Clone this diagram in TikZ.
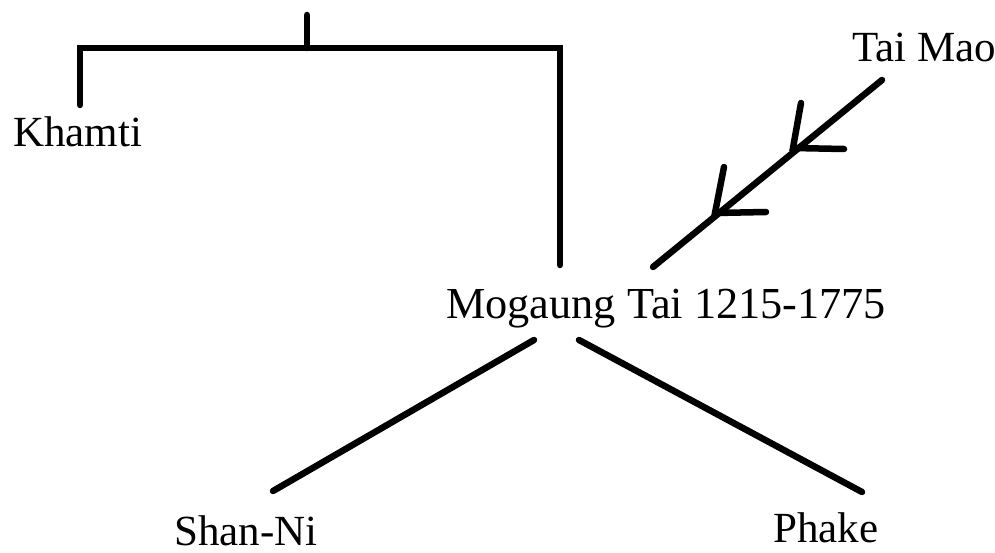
\documentclass[tikz,border=0pt]{standalone}
\usepackage{fontspec}
\setmainfont{Liberation Serif}
\begin{document}
\begin{tikzpicture}[x=1pt,y=-1pt,
  stroke/.style={line width=6.5pt,line cap=round,line join=miter},
  label/.style={inner sep=0pt,anchor=base west,font=\fontsize{43}{50}\selectfont}]
\useasboundingbox (0,0) rectangle (995,553);
\fill[white] (0,0) rectangle (995,553);

% labels
\node[label] (khamti)  at (13,147)  {Khamti};
\node[label] (taimao)  at (852,62)  {Tai Mao};
\node[label,font=\fontsize{44.3}{50}\selectfont] (mogaung) at (446,318) {Mogaung Tai 1215-1775};
\node[label] (shanni)  at (174,545) {Shan-Ni};
\node[label] (phake)   at (773,542) {Phake};

% line end points
\coordinate (root)   at (307,15);
\coordinate (joint)  at (307,48);
\coordinate (lcorner) at (80,48);
\coordinate (rcorner) at (560,48);
\coordinate (khamtiTop) at (80,105);
\coordinate (mogTop) at (560,265);
\coordinate (maoEnd) at (882,80);
\coordinate (mogRight) at (653,267);
\coordinate (tipA) at (793,148);
\coordinate (tipB) at (715,213);
\coordinate (mogL) at (534,340);
\coordinate (mogR) at (579,340);
\coordinate (shanTop) at (273,491);
\coordinate (phakeTop) at (862,492);

% family tree
\draw[stroke] (root) -- (joint);
\draw[stroke] (khamtiTop) -- (lcorner) -- (rcorner) -- (mogTop);

% migration from Tai Mao
\draw[stroke] (maoEnd) -- (mogRight);
\draw[stroke] (801,103) -- (tipA) -- (844,149);
\draw[stroke] (724,167) -- (tipB) -- (766,212);

% branches below
\draw[stroke] (mogL) -- (shanTop);
\draw[stroke] (mogR) -- (phakeTop);
\end{tikzpicture}
\end{document}
